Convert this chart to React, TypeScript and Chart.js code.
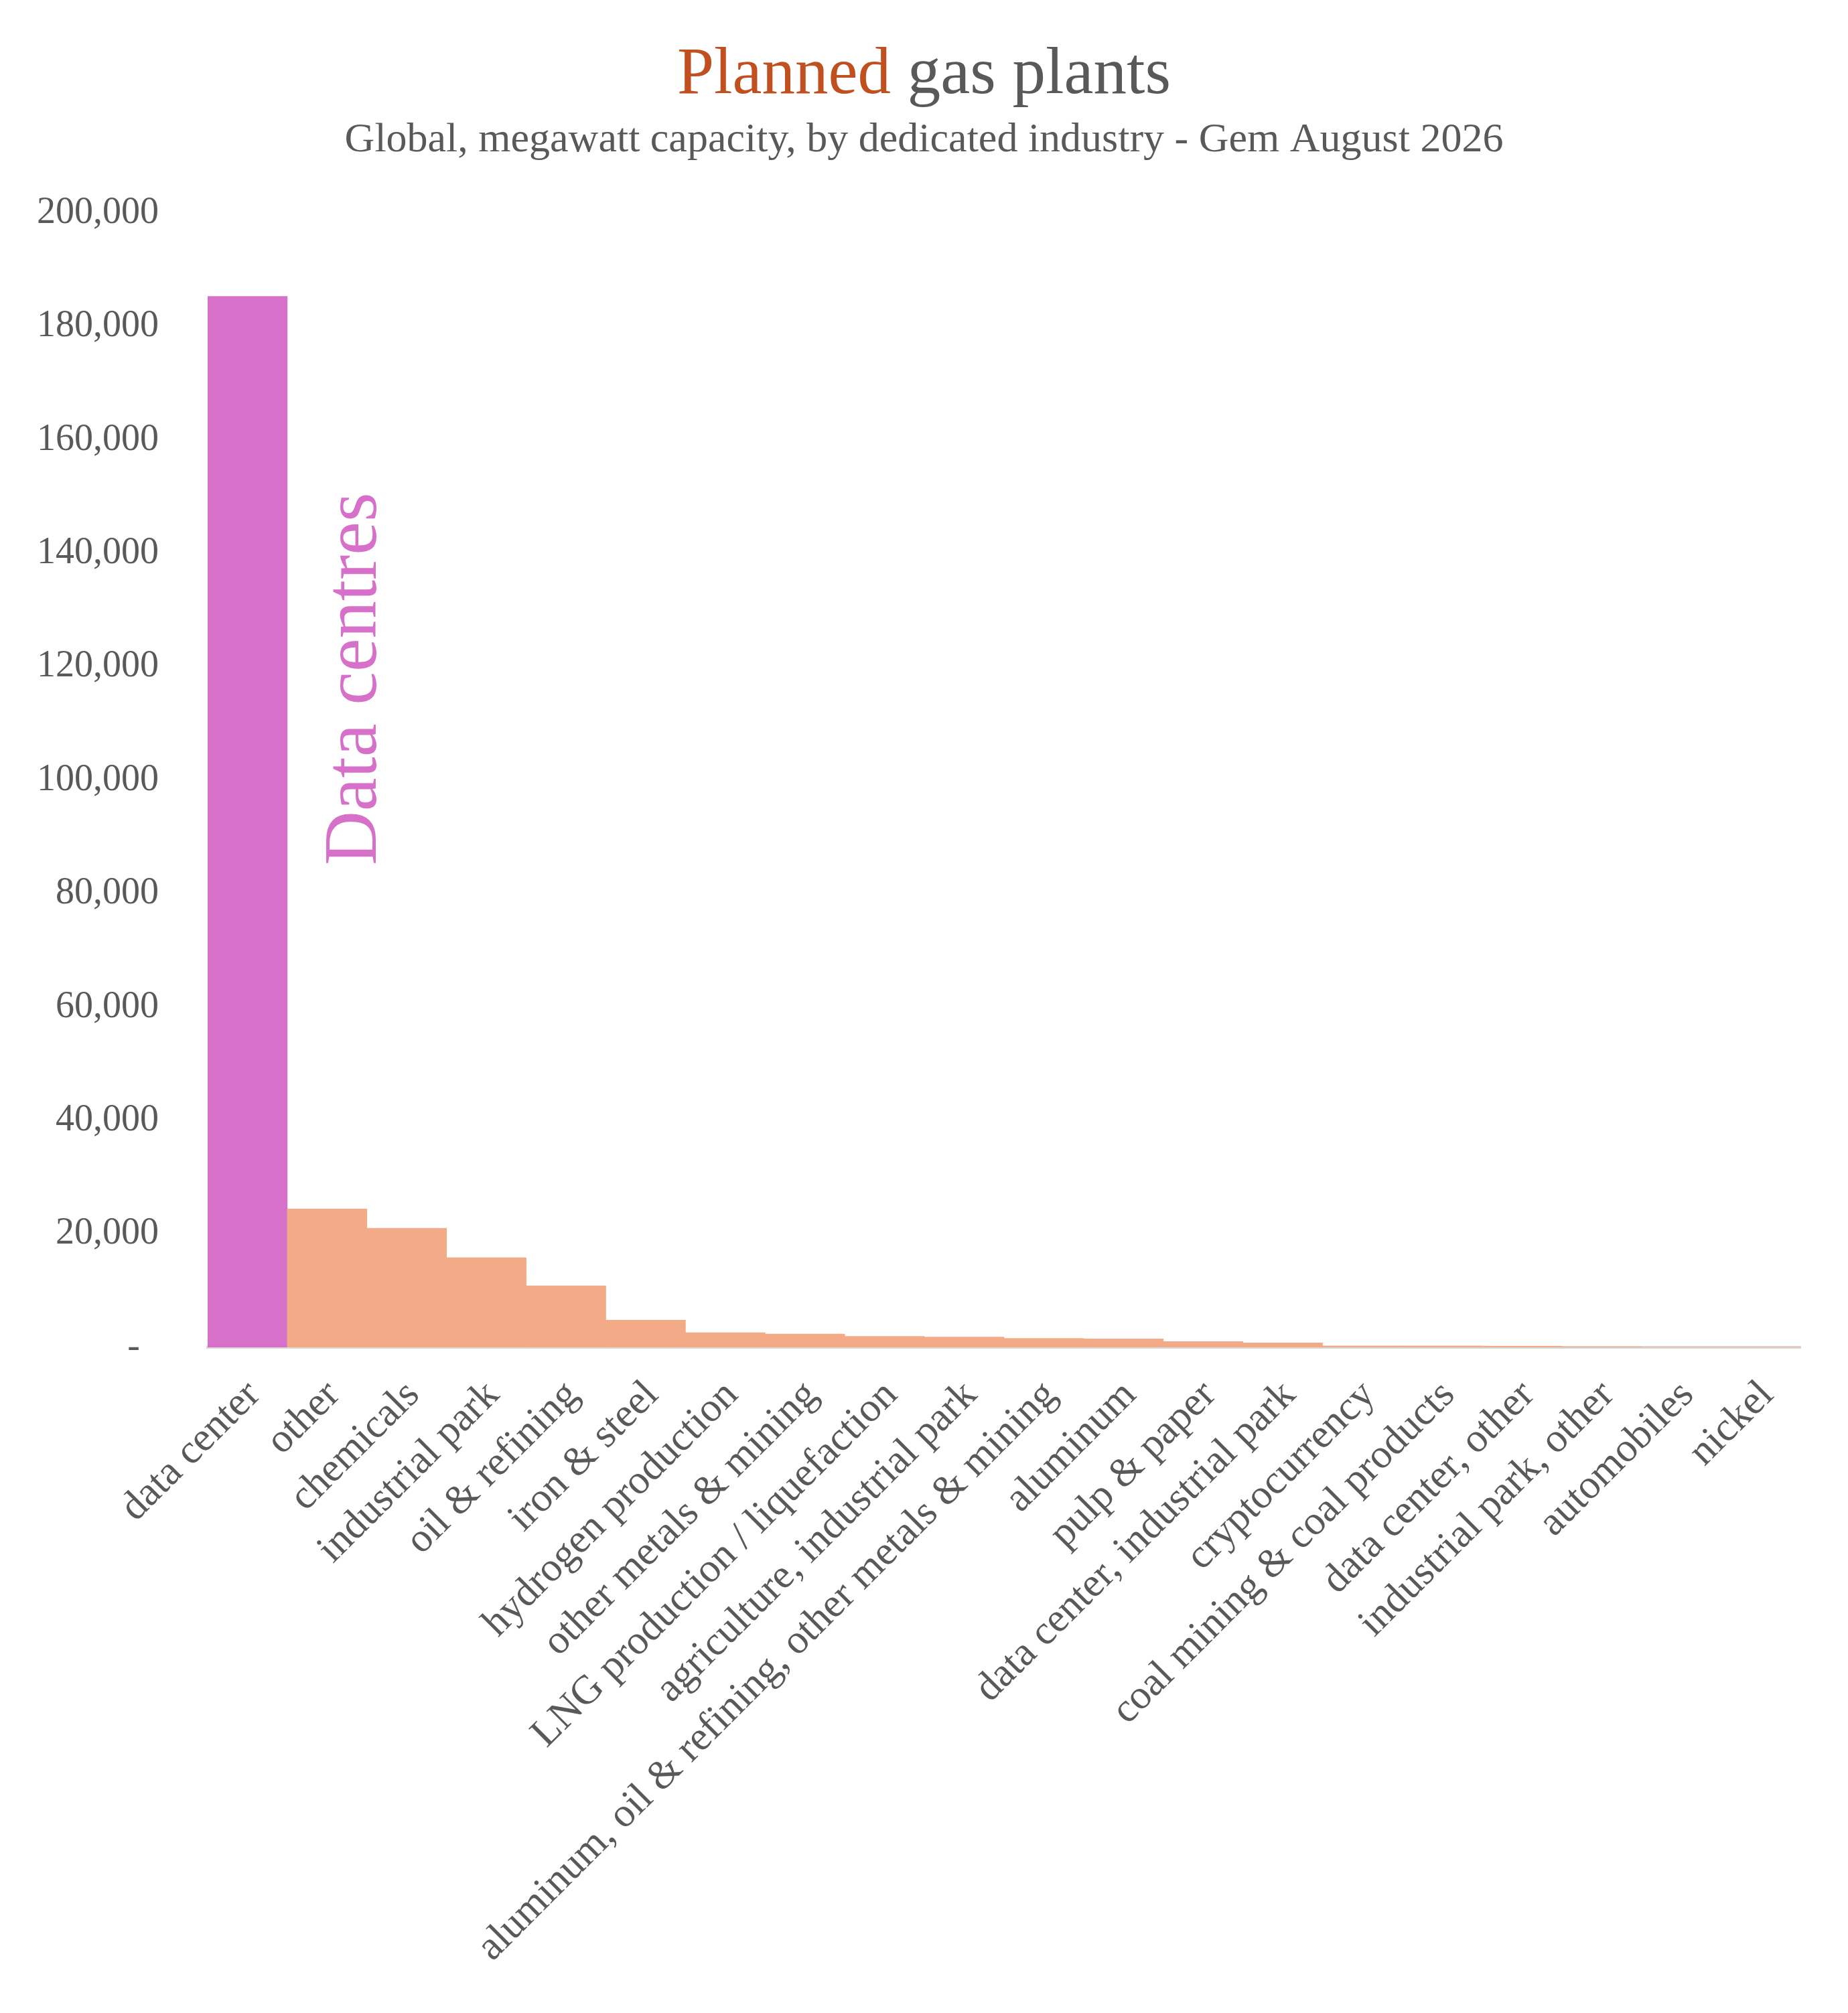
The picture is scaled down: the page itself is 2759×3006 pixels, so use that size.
import React, { useEffect, useRef } from 'react';
import { Chart, registerables } from 'chart.js';

Chart.register(...registerables);

// Planned gas plants, MW, by dedicated industry
const industries = [
  'data center',
  'other',
  'chemicals',
  'industrial park',
  'oil & refining',
  'iron & steel',
  'hydrogen production',
  'other metals & mining',
  'LNG production / liquefaction',
  'agriculture, industrial park',
  'aluminum, oil & refining, other metals & mining',
  'aluminum',
  'pulp & paper',
  'data center, industrial park',
  'cryptocurrency',
  'coal mining & coal products',
  'data center, other',
  'industrial park, other',
  'automobiles',
  'nickel',
];
const capacityMw = [
  185300, 24400, 21000, 15800, 10850, 4800, 2600, 2350, 1950, 1820,
  1580, 1500, 1030, 790, 260, 250, 240, 120, 60, 40,
];
const yMax = 200000;
const yStep = 20000;

const FONT = '"Liberation Serif", "DejaVu Serif", serif';
const PINK = '#D670C9';
const SALMON = '#F2AB86';
const ORANGE = '#C0501F';
const GREY = '#595959';

const overlayPlugin = {
  id: 'overlay',
  afterDraw(chart: any) {
    const { ctx, scales } = chart;
    const x = scales.x;
    const y = scales.y;
    ctx.save();

    // title, two colours
    const cx = chart.width / 2;
    ctx.font = `99px ${FONT}`;
    ctx.textBaseline = 'alphabetic';
    ctx.textAlign = 'left';
    const w1 = ctx.measureText('Planned ').width;
    const w2 = ctx.measureText('gas plants').width;
    const start = cx - (w1 + w2) / 2;
    ctx.fillStyle = ORANGE;
    ctx.fillText('Planned ', start, 139);
    ctx.fillStyle = GREY;
    ctx.fillText('gas plants', start + w1, 139);

    // subtitle
    ctx.font = `62px ${FONT}`;
    ctx.textAlign = 'center';
    ctx.fillText('Global, megawatt capacity, by dedicated industry - Gem August 2026', cx, 226);

    // vertical annotation next to the data center bar
    const ax = x.getPixelForValue(1) + 73;
    const ay = y.getPixelForValue(85000);
    ctx.translate(ax, ay);
    ctx.rotate(-Math.PI / 2);
    ctx.font = `112px ${FONT}`;
    ctx.fillStyle = PINK;
    ctx.textAlign = 'left';
    ctx.fillText('Data centres', 0, 0);

    ctx.restore();
  },
};

export default function App() {
  const canvasRef = useRef<HTMLCanvasElement>(null);
  const chartRef = useRef<Chart | null>(null);

  useEffect(() => {
    if (!canvasRef.current) return;
    if (chartRef.current) chartRef.current.destroy();

    chartRef.current = new Chart(canvasRef.current, {
      type: 'bar',
      data: {
        labels: industries,
        datasets: [
          {
            data: capacityMw,
            backgroundColor: (c: any) => (c.dataIndex === 0 ? PINK : SALMON),
            borderWidth: 0,
            barPercentage: 1,
            categoryPercentage: 1,
          },
        ],
      },
      options: {
        animation: false,
        responsive: true,
        maintainAspectRatio: false,
        layout: { padding: { top: 318, right: 71, bottom: 0, left: 0 } },
        plugins: {
          legend: { display: false },
          tooltip: { enabled: false },
        },
        scales: {
          x: {
            z: 1,
            grid: { display: false, drawTicks: false },
            border: { display: true, color: '#D9D9D9', width: 4 },
            ticks: {
              autoSkip: false,
              maxRotation: 45,
              minRotation: 45,
              padding: 36,
              labelOffset: 10,
              color: GREY,
              font: { family: FONT, size: 61 },
            },
            afterFit: (scale: any) => {
              scale.height = 994;
            },
          },
          y: {
            min: 0,
            max: yMax,
            grid: { display: false, drawTicks: false },
            border: { display: false },
            ticks: {
              stepSize: yStep,
              padding: 73,
              color: GREY,
              font: { family: FONT, size: 56 },
              callback: (v: any) => (v === 0 ? '-\u2007' : Number(v).toLocaleString('en-US')),
            },
            afterFit: (scale: any) => {
              scale.width = 310;
            },
          },
        },
      },
      plugins: [overlayPlugin],
    });

    return () => {
      if (chartRef.current) {
        chartRef.current.destroy();
        chartRef.current = null;
      }
    };
  }, []);

  return (
    <div style={{ position: 'absolute', left: 0, top: 0, width: 2759, height: 3006, background: '#fff' }}>
      <canvas ref={canvasRef}></canvas>
    </div>
  );
}
